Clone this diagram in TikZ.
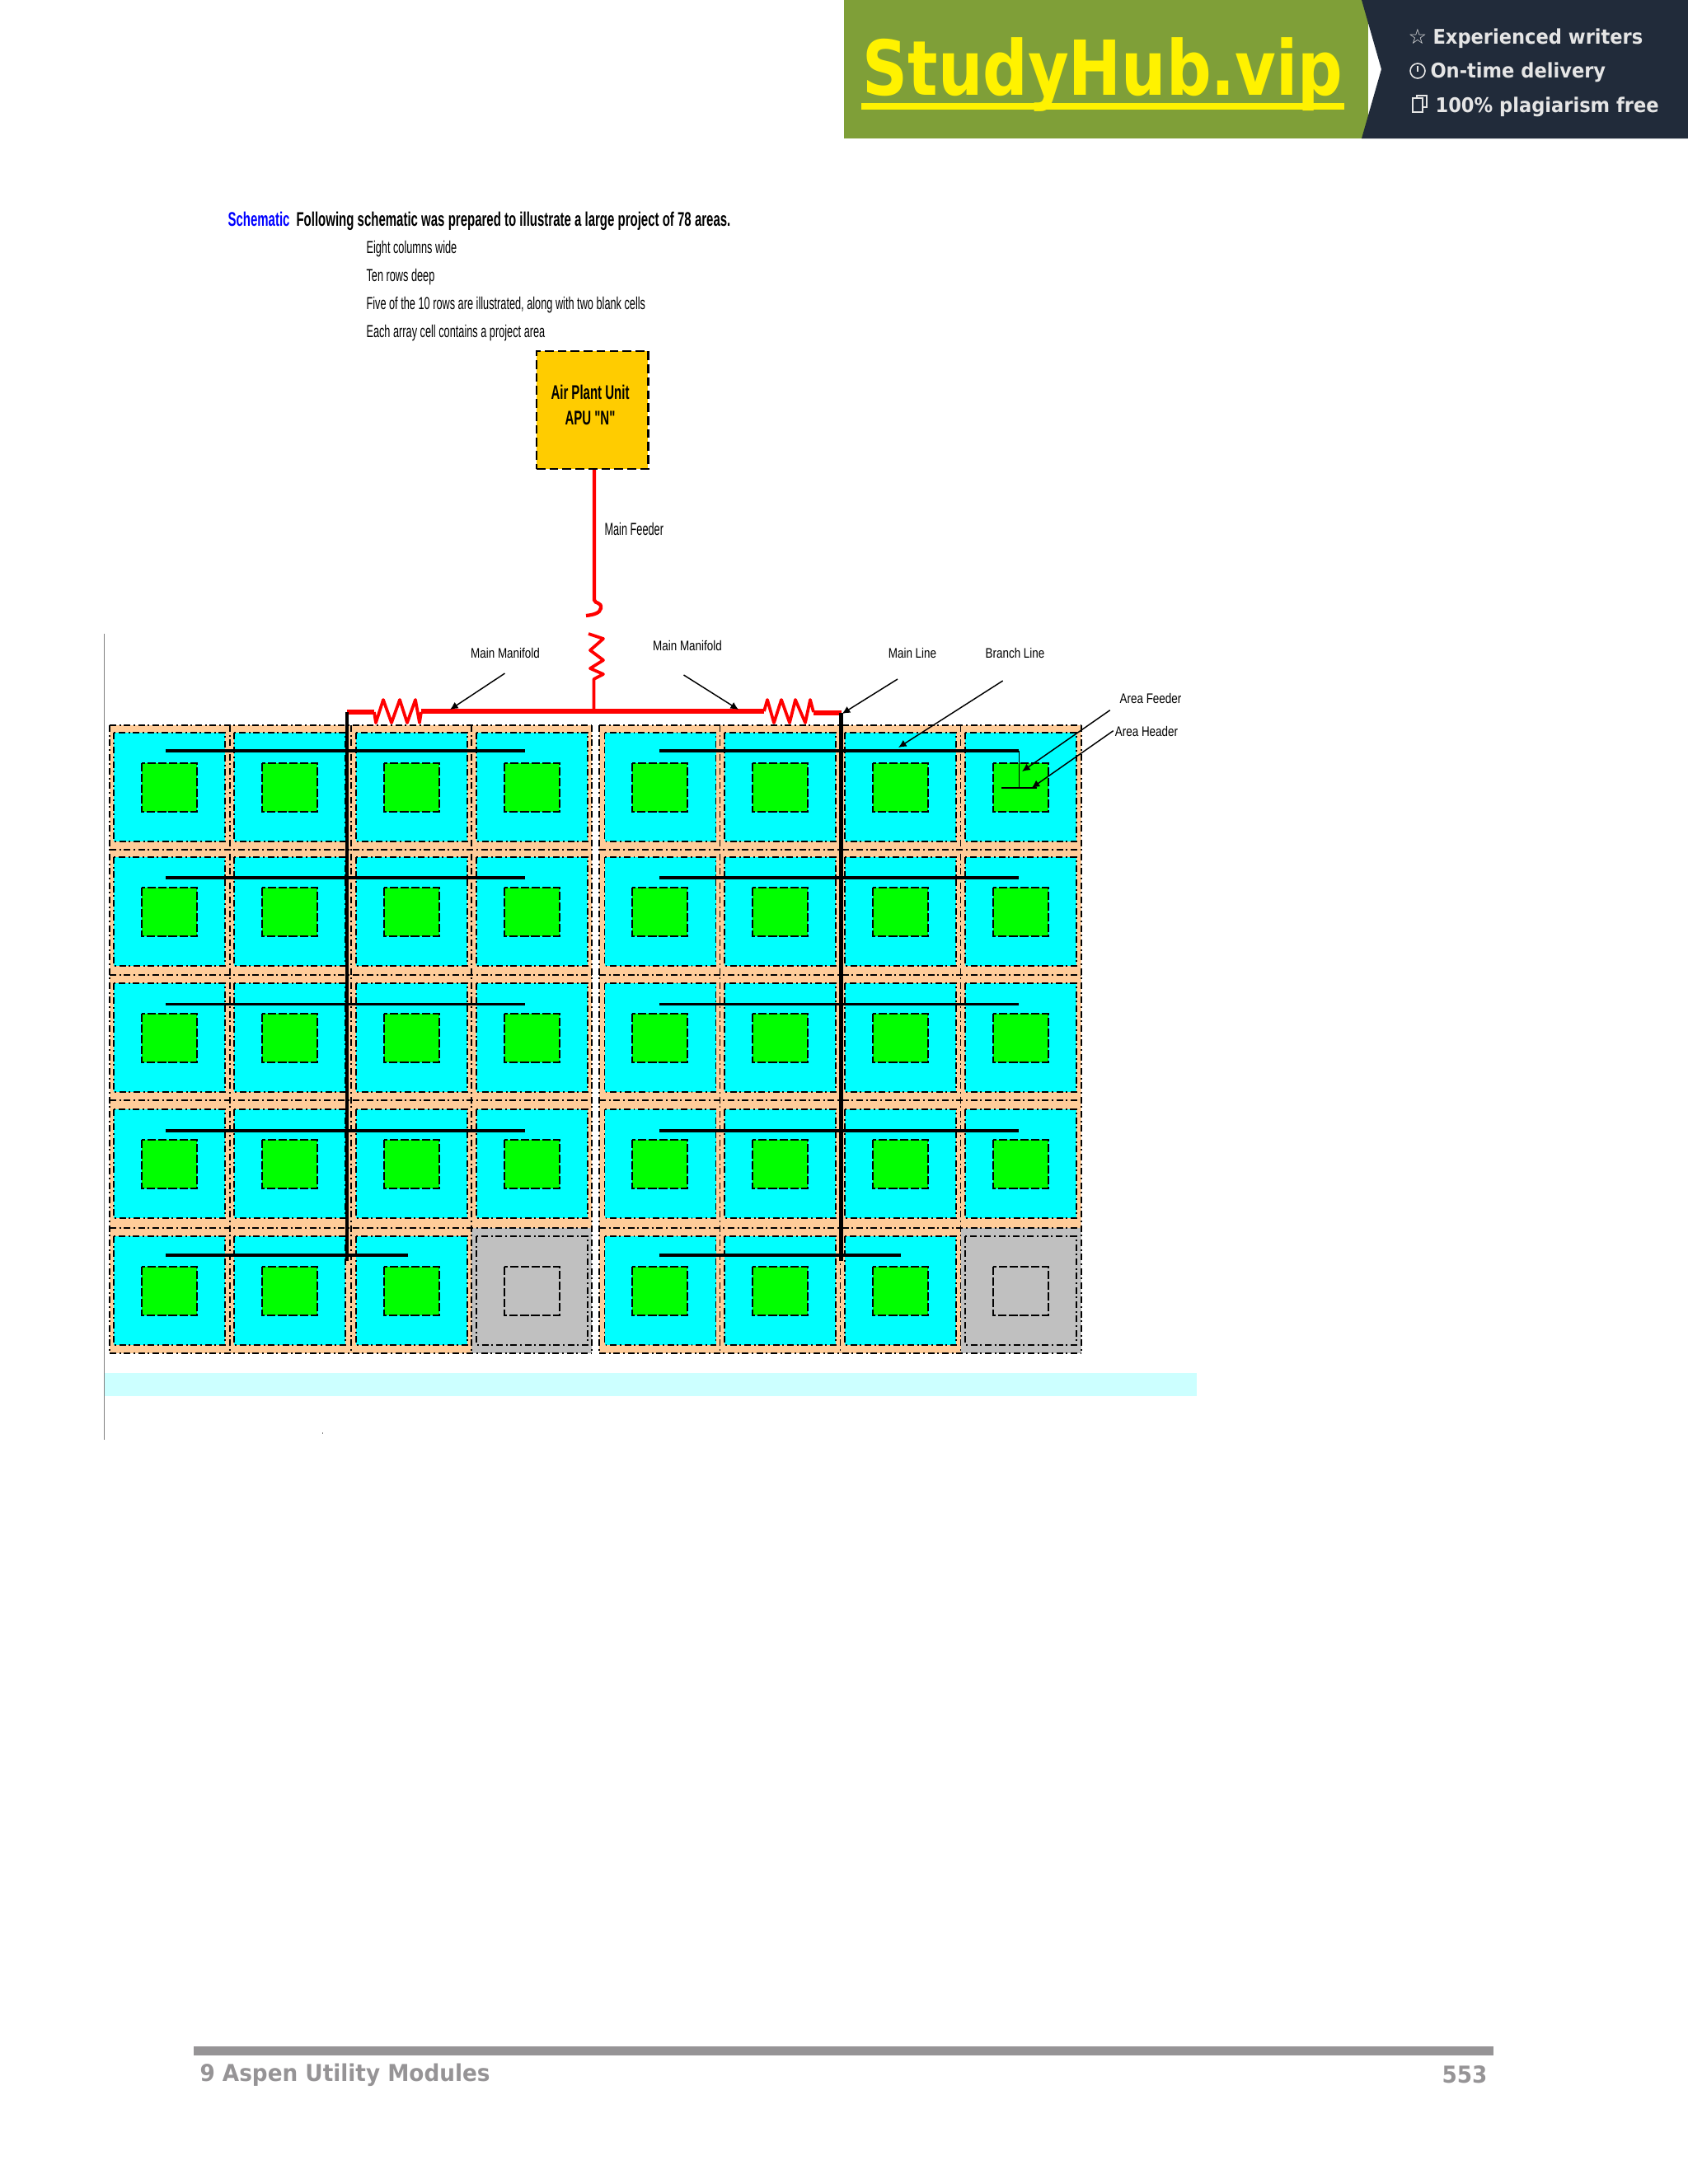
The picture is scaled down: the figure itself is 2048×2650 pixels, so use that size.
\documentclass[tikz,border=0pt]{standalone}
\usepackage{fontspec}
\usetikzlibrary{arrows.meta}
\setmainfont{Liberation Sans}
\newfontfamily\narr[FakeStretch=0.605]{Liberation Sans}
\newfontfamily\narb[FakeStretch=0.625]{Liberation Sans Bold}
\newfontfamily\lab[FakeStretch=0.80]{Liberation Sans}
\newfontfamily\brand[FakeStretch=0.83]{DejaVu Sans Bold}
\newfontfamily\tag[FakeStretch=0.92]{DejaVu Sans Bold}
\newfontfamily\foot[FakeStretch=0.93]{DejaVu Sans Bold}
\newfontfamily\sym{DejaVu Sans}
\definecolor{cream}{HTML}{FFCC99}
\definecolor{cellcyan}{HTML}{00FFFF}
\definecolor{areagreen}{HTML}{00FF00}
\definecolor{blankgray}{HTML}{C0C0C0}
\definecolor{bandcyan}{HTML}{CCFFFF}
\definecolor{apuyellow}{HTML}{FFCC00}
\definecolor{pipered}{HTML}{FF0000}
\definecolor{bannergreen}{HTML}{7F9F38}
\definecolor{bannerdark}{HTML}{212B3A}
\definecolor{footgray}{HTML}{969496}
\tikzset{
  dashdot/.style={draw=black,line width=.4pt,dash pattern=on 3pt off 1.4pt on .7pt off 1.4pt},
  areabox/.style={draw=black,line width=.75pt,dash pattern=on 3.8pt off 1.1pt},
  mainline/.style={draw=black,line width=1.7pt},
  branchline/.style={draw=black,line width=1.3pt},
  thinpipe/.style={draw=black,line width=.6pt},
  callout/.style={draw=black,line width=.55pt,-{Latex[length=3.6pt,width=3.4pt]}},
  redpipe/.style={draw=pipered,line width=2pt},
  redcoil/.style={draw=pipered,line width=1.4pt,line join=round},
  smalltxt/.style={inner sep=0pt,anchor=base west,font=\narr\fontsize{7.9}{9}\selectfont},
  boldtxt/.style={inner sep=0pt,anchor=base west,font=\narb\fontsize{9}{10}\selectfont},
  labeltxt/.style={inner sep=0pt,font=\lab\fontsize{6.3}{8}\selectfont},
  tagtxt/.style={inner sep=0pt,anchor=west,text=white!90!black,font=\tag\fontsize{9.2}{11}\selectfont},
  foottxt/.style={inner sep=0pt,text=footgray,font=\foot\fontsize{10.6}{12}\selectfont},
}
\begin{document}
\begin{tikzpicture}[x=.375pt,y=-.375pt]
\useasboundingbox (0,0) rectangle (2048,2650);
% banner
\fill[bannergreen] (1024,0) rectangle (1660,168);
\fill[bannerdark] (1652,0) -- (2048,0) -- (2048,168) -- (1652,168) -- (1676,84) -- cycle;
\node[inner sep=0pt,anchor=base west,text=yellow,font=\brand\fontsize{34.5}{40}\selectfont] (brandname) at (1046,115) {StudyHub.vip};
\fill[yellow] (1045,125) rectangle (1631,133);
\node[tagtxt] (tag1) at (1738,47) {Experienced writers};
\node[tagtxt] (tag2) at (1735,88) {On-time delivery};
\node[tagtxt] (tag3) at (1741,130) {100\% plagiarism free};
\node[inner sep=0pt,text=white!90!black,font=\sym\fontsize{9.5}{10}\selectfont] (staricon) at (1720,44) {☆};
\draw[white!90!black,line width=.6pt] (1720,86) circle (9);
\draw[white!90!black,line width=.6pt] (1720,80) -- (1720,87);
\draw[white!90!black,line width=.6pt] (1714,119) rectangle (1726,136);
\draw[white!90!black,line width=.6pt] (1719,119) -- (1719,116) -- (1731,116) -- (1731,130) -- (1726,130);
% header text
\node[boldtxt,text=blue] (schem) at (276,274.5) {Schematic};
\node[boldtxt] (intro) at (359,274.5) {Following schematic was prepared to illustrate a large project of 78 areas.};
\node[smalltxt] (l1) at (444,307.5) {Eight columns wide};
\node[smalltxt] (l2) at (444,341.5) {Ten rows deep};
\node[smalltxt] (l3) at (444,375.5) {Five of the 10 rows are illustrated, along with two blank cells};
\node[smalltxt] (l4) at (444,409.5) {Each array cell contains a project area};
% left rule, band
\draw[gray,line width=.6pt] (126.5,769) -- (126.5,1747);
\fill[bandcyan] (127,1666) rectangle (1452,1694);
\fill[gray] (390.5,1738) rectangle (392,1739.5);
% array cells
\fill[cream] (133,880) rectangle (718,1642);
\fill[cream] (727,880) rectangle (1312,1642);
\fill[blankgray] (572,1490) rectangle (718,1642);
\fill[blankgray] (1165.5,1490) rectangle (1312,1642);
\foreach \xx in {133,279,426,572,718,727,873.5,1019.5,1165.5,1312}{
  \draw[dashdot] (\xx,880) -- (\xx,1642);
}
\foreach \yy in {880,1031,1183,1335,1490,1642}{
  \draw[dashdot] (133,\yy) -- (718,\yy);
  \draw[dashdot] (727,\yy) -- (1312,\yy);
}
\draw[dashdot,line width=.8pt] (133,1490) -- (718,1490);
\draw[dashdot,line width=.8pt] (727,1490) -- (1312,1490);
\foreach \cl/\gl [count=\cc] in {138/172,284/318,432/466,578/612,733.5/767,879/913,1025/1059,1171/1205}{
  \foreach \ct [count=\rr] in {889,1040,1193,1346,1500}{
    \pgfmathtruncatemacro{\isblank}{(\rr==5 && (\cc==4 || \cc==8)) ? 1 : 0}
    \ifnum\isblank=1
      \path[dashdot] (\cl,\ct) rectangle ++(135,132);
      \path[areabox] (\gl,\ct) ++(0,37) rectangle ++(67,59);
    \else
      \path[fill=cellcyan,dashdot] (\cl,\ct) rectangle ++(135,132);
      \path[fill=areagreen,areabox] (\gl,\ct) ++(0,37) rectangle ++(67,59);
    \fi
  }
}
% APU and main feeder
\node[draw=black,fill=apuyellow,line width=.95pt,dash pattern=on 4pt off 1.9pt,minimum width=50.8pt,minimum height=53.6pt,inner sep=0pt] (apu) at (718.75,497.5) {};
\node[inner sep=0pt,align=center,font=\narb\fontsize{9}{11.6}\selectfont] (aputext) at (716,491) {Air Plant Unit\\APU "N"};
\coordinate (feedcurl) at (721,728);
\coordinate (feedend) at (711,747);
\draw[redpipe,line width=1.6pt] (apu.south -| feedcurl) -- (feedcurl) .. controls (722,733) and (730,730) .. (729,738) .. controls (728,744) and (720,746) .. (feedend);
\node[labeltxt,font=\narr\fontsize{7.9}{9}\selectfont,anchor=west] (mf) at (733,642) {Main Feeder};
% manifold
\coordinate (coiltop) at (714,769);
\coordinate (tee) at (720.5,863);
\coordinate (mlL) at (421,864);
\coordinate (mlR) at (1020.5,865);
\draw[redcoil] (coiltop) -- (732,775) -- (716,789) -- (732,801) -- (716,811) -- (732,818) -- (720.5,824) -- (tee);
\draw[redpipe] (mlL) -- (454,864);
\draw[redcoil] (454,864) -- (456,877) -- (465,849) -- (475,877) -- (485,849) -- (494,877) -- (504,849) -- (509,877) -- (511,864);
\draw[redpipe] (511,863) -- (tee) -- (927,863);
\draw[redcoil] (927,863) -- (931,849) -- (939,877) -- (948,849) -- (958,877) -- (965,849) -- (977,877) -- (983,849) -- (987,864);
\draw[redpipe] (987,865) -- (mlR);
% black lines
\foreach \yy/\la/\lb/\ra/\rb in {911/201/637/800/1236,1065/201/637/800/1236,1218.5/201/637/800/1236,1372/201/637/800/1236,1523/201/495/800/1093}{
  \draw[branchline] (\la,\yy) -- (\lb,\yy);
  \draw[branchline] (\ra,\yy) -- (\rb,\yy);
}
\coordinate (mlLend) at (421,1530);
\coordinate (mlRend) at (1020.5,1530);
\draw[mainline] (mlL) -- (mlLend);
\draw[mainline] (mlR) -- (mlRend);
\coordinate (feederjoin) at (1236.5,911);
\coordinate (headerjoin) at (1236.5,955.7);
\coordinate (headerL) at (1215,955.7);
\coordinate (headerR) at (1258,955.7);
\draw[thinpipe] (feederjoin) -- (headerjoin);
\draw[thinpipe] (headerL) -- (headerR);
% labels and callouts
\node[labeltxt] (lmm1) at (613,792.5) {Main Manifold};
\node[labeltxt] (lmm2) at (834,783) {Main Manifold};
\node[labeltxt] (lml) at (1107,792.5) {Main Line};
\node[labeltxt] (lbl) at (1231.5,792.5) {Branch Line};
\node[labeltxt] (laf) at (1396,847.5) {Area Feeder};
\node[labeltxt] (lah) at (1391,887.5) {Area Header};
\coordinate (c1) at (612.5,817); \coordinate (t1) at (546,861);
\coordinate (c2) at (829.5,819); \coordinate (t2) at (896,861);
\coordinate (c3) at (1089,824); \coordinate (t3) at (1021.7,866);
\coordinate (c4) at (1216.7,826); \coordinate (t4) at (1090,907);
\coordinate (c5) at (1346.7,861.7); \coordinate (t5) at (1240,936);
\coordinate (c6) at (1350.7,886.7); \coordinate (t6) at (1251.7,956);
\foreach \i in {1,...,6}{\draw[callout] (c\i) -- (t\i);}
% footer
\fill[footgray] (235,2483) rectangle (1812,2494);
\node[foottxt,anchor=west] (ftl) at (242,2517.5) {9 Aspen Utility Modules};
\node[foottxt,anchor=east] (ftr) at (1805,2517.5) {553};
\end{tikzpicture}
\end{document}
